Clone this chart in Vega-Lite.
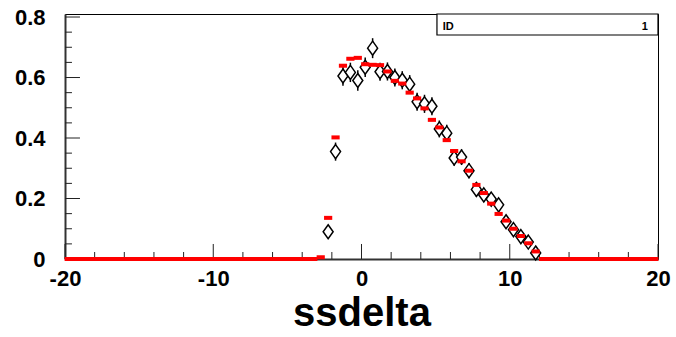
{
  "$schema": "https://vega.github.io/schema/vega-lite/v6.json",
  "width": 593,
  "height": 245,
  "autosize": {"type": "none"},
  "padding": {"left": 65, "top": 14, "right": 18, "bottom": 78},
  "background": "white",
  "config": {
    "font": "Liberation Sans",
    "view": {"stroke": "#000000", "strokeWidth": 1}
  },
  "datasets": {
    "hist": [
      {"x": -19.75, "mc": 0}, {"x": -19.25, "mc": 0}, {"x": -18.75, "mc": 0}, {"x": -18.25, "mc": 0},
      {"x": -17.75, "mc": 0}, {"x": -17.25, "mc": 0}, {"x": -16.75, "mc": 0}, {"x": -16.25, "mc": 0},
      {"x": -15.75, "mc": 0}, {"x": -15.25, "mc": 0}, {"x": -14.75, "mc": 0}, {"x": -14.25, "mc": 0},
      {"x": -13.75, "mc": 0}, {"x": -13.25, "mc": 0}, {"x": -12.75, "mc": 0}, {"x": -12.25, "mc": 0},
      {"x": -11.75, "mc": 0}, {"x": -11.25, "mc": 0}, {"x": -10.75, "mc": 0}, {"x": -10.25, "mc": 0},
      {"x": -9.75, "mc": 0}, {"x": -9.25, "mc": 0}, {"x": -8.75, "mc": 0}, {"x": -8.25, "mc": 0},
      {"x": -7.75, "mc": 0}, {"x": -7.25, "mc": 0}, {"x": -6.75, "mc": 0}, {"x": -6.25, "mc": 0},
      {"x": -5.75, "mc": 0}, {"x": -5.25, "mc": 0}, {"x": -4.75, "mc": 0}, {"x": -4.25, "mc": 0},
      {"x": -3.75, "mc": 0}, {"x": -3.25, "mc": 0},
      {"x": -2.75, "mc": 0.006},
      {"x": -2.25, "mc": 0.136, "data": 0.090, "err": 0.02},
      {"x": -1.75, "mc": 0.402, "data": 0.355, "err": 0.03},
      {"x": -1.25, "mc": 0.639, "data": 0.605, "err": 0.032},
      {"x": -0.75, "mc": 0.662, "data": 0.617, "err": 0.032},
      {"x": -0.25, "mc": 0.665, "data": 0.590, "err": 0.034},
      {"x": 0.25, "mc": 0.644, "data": 0.634, "err": 0.032},
      {"x": 0.75, "mc": 0.642, "data": 0.697, "err": 0.033},
      {"x": 1.25, "mc": 0.641, "data": 0.619, "err": 0.03},
      {"x": 1.75, "mc": 0.620, "data": 0.620, "err": 0.03},
      {"x": 2.25, "mc": 0.589, "data": 0.600, "err": 0.03},
      {"x": 2.75, "mc": 0.580, "data": 0.591, "err": 0.03},
      {"x": 3.25, "mc": 0.550, "data": 0.578, "err": 0.03},
      {"x": 3.75, "mc": 0.531, "data": 0.520, "err": 0.03},
      {"x": 4.25, "mc": 0.498, "data": 0.513, "err": 0.03},
      {"x": 4.75, "mc": 0.460, "data": 0.505, "err": 0.03},
      {"x": 5.25, "mc": 0.435, "data": 0.430, "err": 0.028},
      {"x": 5.75, "mc": 0.393, "data": 0.416, "err": 0.028},
      {"x": 6.25, "mc": 0.357, "data": 0.334, "err": 0.026},
      {"x": 6.75, "mc": 0.323, "data": 0.337, "err": 0.026},
      {"x": 7.25, "mc": 0.292, "data": 0.292, "err": 0.025},
      {"x": 7.75, "mc": 0.245, "data": 0.230, "err": 0.024},
      {"x": 8.25, "mc": 0.218, "data": 0.212, "err": 0.023},
      {"x": 8.75, "mc": 0.183, "data": 0.198, "err": 0.022},
      {"x": 9.25, "mc": 0.149, "data": 0.179, "err": 0.022},
      {"x": 9.75, "mc": 0.127, "data": 0.123, "err": 0.02},
      {"x": 10.25, "mc": 0.100, "data": 0.097, "err": 0.02},
      {"x": 10.75, "mc": 0.076, "data": 0.074, "err": 0.018},
      {"x": 11.25, "mc": 0.052, "data": 0.056, "err": 0.016},
      {"x": 11.75, "mc": 0.025, "data": 0.020, "err": 0.012},
      {"x": 12.25, "mc": 0}, {"x": 12.75, "mc": 0}, {"x": 13.25, "mc": 0}, {"x": 13.75, "mc": 0},
      {"x": 14.25, "mc": 0}, {"x": 14.75, "mc": 0}, {"x": 15.25, "mc": 0}, {"x": 15.75, "mc": 0},
      {"x": 16.25, "mc": 0}, {"x": 16.75, "mc": 0}, {"x": 17.25, "mc": 0}, {"x": 17.75, "mc": 0},
      {"x": 18.25, "mc": 0}, {"x": 18.75, "mc": 0}, {"x": 19.25, "mc": 0}, {"x": 19.75, "mc": 0}
    ],
    "xmajor": [{"x": -20}, {"x": -10}, {"x": 0}, {"x": 10}, {"x": 20}],
    "xminor": [
      {"x": -18}, {"x": -16}, {"x": -14}, {"x": -12}, {"x": -8}, {"x": -6}, {"x": -4}, {"x": -2},
      {"x": 2}, {"x": 4}, {"x": 6}, {"x": 8}, {"x": 12}, {"x": 14}, {"x": 16}, {"x": 18}
    ],
    "ymajor": [{"y": 0}, {"y": 0.2}, {"y": 0.4}, {"y": 0.6}, {"y": 0.8}],
    "yminor": [
      {"y": 0.05}, {"y": 0.1}, {"y": 0.15}, {"y": 0.25}, {"y": 0.3}, {"y": 0.35},
      {"y": 0.45}, {"y": 0.5}, {"y": 0.55}, {"y": 0.65}, {"y": 0.7}, {"y": 0.75}
    ],
    "box": [
      {"x": 5.09, "x2": 20, "y": 0.7405, "y2": 0.81}
    ],
    "idlabel": [
      {"x": 5.48, "y": 0.768, "text": "ID"}
    ],
    "idvalue": [
      {"x": 19.32, "y": 0.768, "text": "1"}
    ]
  },
  "layer": [
    {
      "data": {"name": "xmajor"},
      "mark": {"type": "rule", "color": "#222222", "strokeWidth": 1},
      "encoding": {
        "x": {"field": "x", "type": "quantitative", "axis": {"title": "ssdelta"}},
        "y": {"datum": 0, "type": "quantitative", "axis": {"title": null}},
        "y2": {"datum": 0.0496}
      }
    },
    {
      "data": {"name": "xminor"},
      "mark": {"type": "rule", "color": "#222222", "strokeWidth": 1},
      "encoding": {
        "x": {"field": "x", "type": "quantitative", "axis": {"title": "ssdelta"}},
        "y": {"datum": 0, "type": "quantitative", "axis": {"title": null}},
        "y2": {"datum": 0.0231}
      }
    },
    {
      "data": {"name": "ymajor"},
      "mark": {"type": "rule", "color": "#222222", "strokeWidth": 1},
      "encoding": {
        "y": {"field": "y", "type": "quantitative", "axis": {"title": null}},
        "x": {"datum": -20, "type": "quantitative", "axis": {"title": "ssdelta"}},
        "x2": {"datum": -18.99}
      }
    },
    {
      "data": {"name": "yminor"},
      "mark": {"type": "rule", "color": "#222222", "strokeWidth": 1},
      "encoding": {
        "y": {"field": "y", "type": "quantitative", "axis": {"title": null}},
        "x": {"datum": -20, "type": "quantitative", "axis": {"title": "ssdelta"}},
        "x2": {"datum": -19.53}
      }
    },
    {
      "data": {"name": "hist"},
      "transform": [{"filter": "isValid(datum.data)"}],
      "mark": {"type": "errorbar", "ticks": false, "color": "#000000", "thickness": 1.5},
      "encoding": {
        "x": {"field": "x", "type": "quantitative", "axis": {"title": "ssdelta"}},
        "y": {"field": "data", "type": "quantitative", "axis": {"title": null}},
        "yError": {"field": "err"}
      }
    },
    {
      "data": {"name": "hist"},
      "transform": [{"filter": "isValid(datum.data)"}],
      "mark": {"type": "point", "shape": "M0,-1.4L1,0L0,1.4L-1,0Z", "size": 100, "filled": false, "fill": "#ffffff", "fillOpacity": 1, "stroke": "#000000", "strokeWidth": 1.5, "opacity": 1},
      "encoding": {
        "x": {"field": "x", "type": "quantitative", "axis": {"title": "ssdelta"}},
        "y": {"field": "data", "type": "quantitative", "axis": {"title": null}}
      }
    },
    {
      "data": {"name": "hist"},
      "mark": {"type": "tick", "orient": "horizontal", "size": 8.2, "thickness": 4, "color": "#ff0000", "opacity": 1},
      "encoding": {
        "x": {
          "field": "x", "type": "quantitative",
          "scale": {"domain": [-20, 20], "nice": false, "zero": false},
          "axis": {
            "title": "ssdelta",
            "titleFont": "Liberation Sans", "titleFontSize": 40, "titleFontWeight": "bold", "titleColor": "#000000",
            "titlePadding": 4,
            "values": [-20, -10, 0, 10, 20],
            "labelExpr": "'' + datum.value",
            "labelFont": "Liberation Sans", "labelFontSize": 22, "labelFontWeight": "bold", "labelColor": "#000000",
            "labelPadding": 9, "labelFlush": false, "labelOverlap": false,
            "ticks": false, "tickSize": 0,
            "domain": true, "domainColor": "#333333", "domainWidth": 2, "grid": false, "zindex": 0
          }
        },
        "y": {
          "field": "mc", "type": "quantitative",
          "scale": {"domain": [0, 0.81], "nice": false, "zero": false},
          "axis": {
            "title": null,
            "values": [0, 0.2, 0.4, 0.6, 0.8],
            "labelExpr": "format(datum.value, '~g')",
            "labelFont": "Liberation Sans", "labelFontSize": 22, "labelFontWeight": "bold", "labelColor": "#000000",
            "labelPadding": 20, "labelFlush": false, "labelOverlap": false,
            "ticks": false, "tickSize": 0,
            "domain": true, "domainColor": "#333333", "domainWidth": 2, "grid": false, "zindex": 0
          }
        }
      }
    },
    {
      "data": {"name": "box"},
      "mark": {"type": "rect", "fill": "#ffffff", "stroke": "#000000", "strokeWidth": 1.2},
      "encoding": {
        "x": {"field": "x", "type": "quantitative", "axis": {"title": "ssdelta"}},
        "x2": {"field": "x2"},
        "y": {"field": "y", "type": "quantitative", "axis": {"title": null}},
        "y2": {"field": "y2"}
      }
    },
    {
      "data": {"name": "idlabel"},
      "mark": {"type": "text", "font": "Liberation Sans", "fontSize": 11, "fontWeight": "bold", "color": "#000000", "baseline": "middle", "align": "left"},
      "encoding": {
        "x": {"field": "x", "type": "quantitative", "axis": {"title": "ssdelta"}},
        "y": {"field": "y", "type": "quantitative", "axis": {"title": null}},
        "text": {"field": "text"}
      }
    },
    {
      "data": {"name": "idvalue"},
      "mark": {"type": "text", "font": "Liberation Sans", "fontSize": 11, "fontWeight": "bold", "color": "#000000", "baseline": "middle", "align": "right"},
      "encoding": {
        "x": {"field": "x", "type": "quantitative", "axis": {"title": "ssdelta"}},
        "y": {"field": "y", "type": "quantitative", "axis": {"title": null}},
        "text": {"field": "text"}
      }
    }
  ]
}
